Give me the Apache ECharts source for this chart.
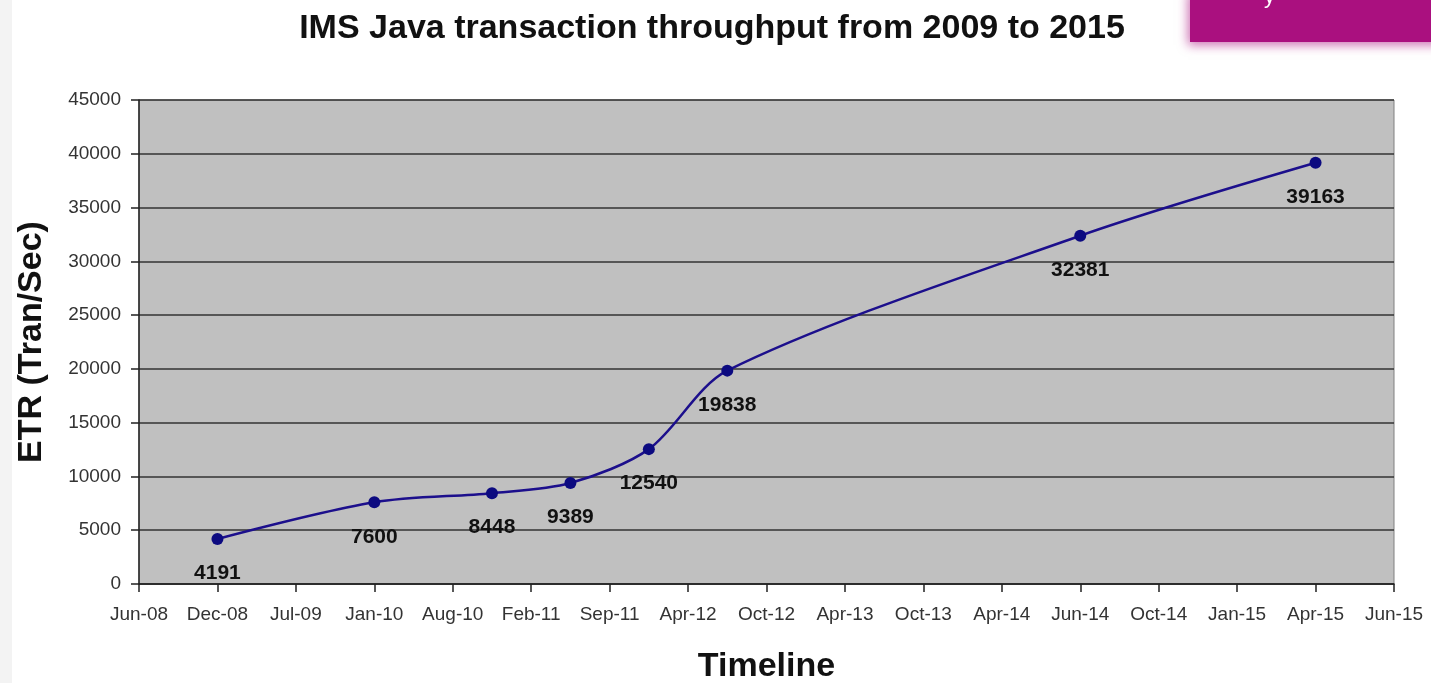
<!DOCTYPE html>
<html>
<head>
<meta charset="utf-8">
<script src="https://cdn.jsdelivr.net/npm/echarts@6/dist/echarts.min.js"></script>
<style>
html,body{margin:0;padding:0;background:#fff;}
#chart{width:1431px;height:683px;}
</style>
</head>
<body>
<div id="chart"></div>
<script>
// Tick labels of the timeline axis (evenly spaced, as in the source chart)
const tickLabels = ['Jun-08','Dec-08','Jul-09','Jan-10','Aug-10','Feb-11','Sep-11','Apr-12','Oct-12','Apr-13','Oct-13','Apr-14','Jun-14','Oct-14','Jan-15','Apr-15','Jun-15'];
// Position of each measurement along the timeline axis (in tick units)
const pointPositions = [1, 3, 4.5, 5.5, 6.5, 7.5, 12, 15];
// ETR throughput values (Tran/Sec)
const etrValues = [4191, 7600, 8448, 9389, 12540, 19838, 32381, 39163];

const seriesData = pointPositions.map((p, i) => [p, etrValues[i]]);
const FONT = 'Liberation Sans, Arial, sans-serif';

const chart = echarts.init(document.getElementById('chart'), null, {renderer: 'canvas'});
chart.setOption({
  backgroundColor: '#ffffff',
  animation: false,
  title: {
    text: 'IMS Java transaction throughput from 2009 to 2015',
    left: 707, top: 7, textAlign: 'center',
    textStyle: {fontFamily: FONT, fontWeight: 'bold', fontSize: 34, color: '#111'}
  },
  graphic: [
    {type: 'rect', shape: {x: 0, y: 0, width: 12, height: 683}, style: {fill: '#f3f3f3'}, z: -1},
    {type: 'rect', shape: {x: 1190, y: -10, width: 260, height: 52},
     style: {fill: '#aa107f', shadowBlur: 10, shadowColor: 'rgba(170,16,127,0.6)', shadowOffsetX: -2, shadowOffsetY: 3}, z: 10},
    {type: 'text', x: 1264, y: -14, style: {text: 'y', fill: '#ffffff', font: '22px Liberation Sans, Arial, sans-serif'}, z: 11}
  ],
  grid: {
    left: 139, right: 37, top: 100, bottom: 99,
    outerBoundsMode: 'none', containLabel: false,
    show: true, backgroundColor: '#c0c0c0', borderColor: '#808080', borderWidth: 1
  },
  xAxis: {
    type: 'value', min: 0, max: 16, interval: 1,
    name: 'Timeline', nameLocation: 'middle', nameGap: 66,
    nameTextStyle: {fontFamily: FONT, fontWeight: 'bold', fontSize: 34, color: '#111'},
    axisLine: {show: true, onZero: false, lineStyle: {color: '#222', width: 1.5}},
    axisTick: {show: true, inside: false, length: 8, lineStyle: {color: '#222', width: 1.5}},
    splitLine: {show: false},
    axisLabel: {
      margin: 21, fontFamily: FONT, fontSize: 19, color: '#333',
      formatter: v => tickLabels[Math.round(v)] || ''
    }
  },
  yAxis: {
    type: 'value', min: 0, max: 45000, interval: 5000,
    name: 'ETR (Tran/Sec)', nameLocation: 'middle', nameGap: 90, nameRotate: 90,
    nameTextStyle: {fontFamily: FONT, fontWeight: 'bold', fontSize: 34, color: '#111'},
    axisLine: {show: true, lineStyle: {color: '#222', width: 1.5}},
    axisTick: {show: true, inside: false, length: 8, lineStyle: {color: '#222', width: 1.5}},
    splitLine: {show: true, lineStyle: {color: '#333', width: 1.5}},
    axisLabel: {margin: 18, fontFamily: FONT, fontSize: 19, color: '#333', formatter: v => String(v)}
  },
  series: [{
    type: 'line',
    data: seriesData,
    smooth: 0.3,
    symbol: 'circle', symbolSize: 12,
    lineStyle: {color: '#1c0f8c', width: 2.5},
    itemStyle: {color: '#0c0a80'},
    label: {
      show: true, position: 'bottom', distance: 18,
      formatter: p => p.value[1],
      fontFamily: FONT, fontWeight: 'bold', fontSize: 21, color: '#111'
    }
  }]
});
</script>
</body>
</html>
